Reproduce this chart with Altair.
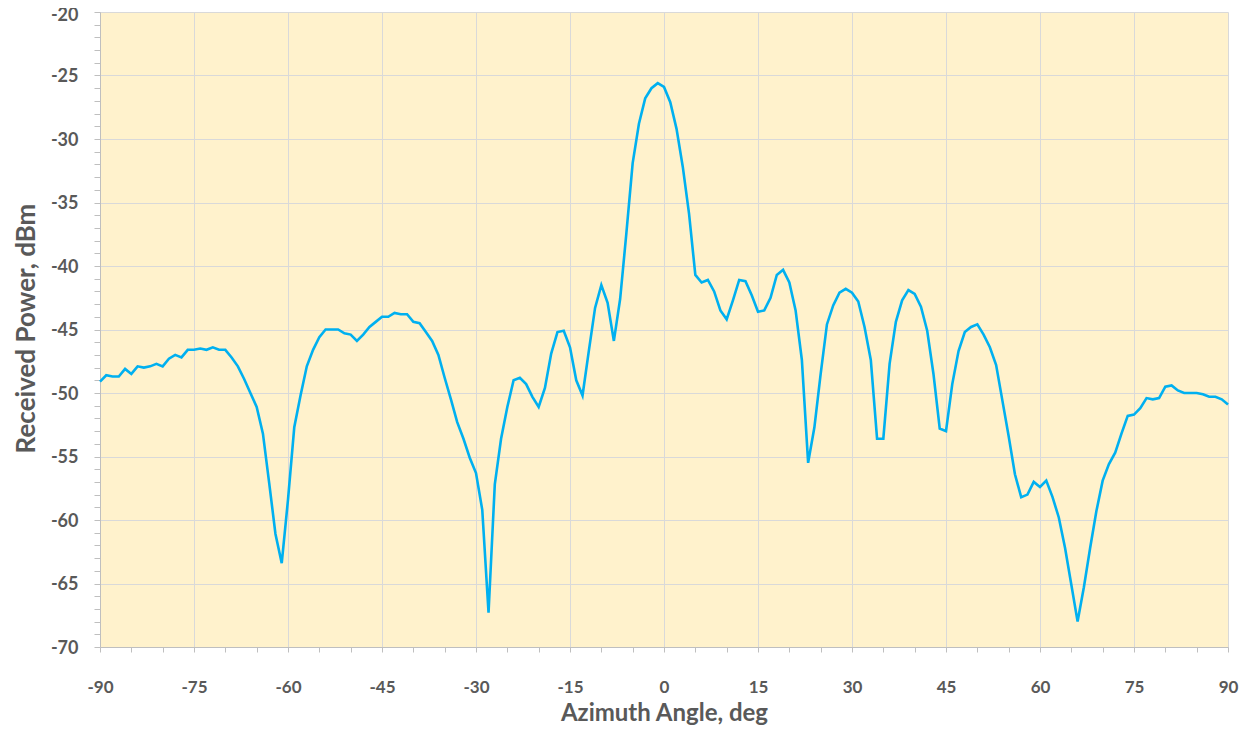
import altair as alt
import pandas as pd

angles = list(range(-90, 91))
power = [
    -49.1, -48.6, -48.7, -48.7, -48.1, -48.5, -47.9, -48.0, -47.9, -47.7,
    -47.9, -47.3, -47.0, -47.2, -46.6, -46.6, -46.5, -46.6, -46.4, -46.6,
    -46.6, -47.2, -47.9, -48.9, -50.0, -51.1, -53.2, -57.1, -61.1, -63.4,
    -58.4, -52.7, -50.2, -47.9, -46.6, -45.6, -45.0, -45.0, -45.0, -45.3,
    -45.4, -45.9, -45.4, -44.8, -44.4, -44.0, -44.0, -43.7, -43.8, -43.8,
    -44.4, -44.5, -45.2, -45.9, -47.0, -48.8, -50.5, -52.3, -53.6, -55.1,
    -56.3, -59.2, -67.3, -57.2, -53.6, -51.1, -49.0, -48.8, -49.3, -50.3,
    -51.1, -49.6, -46.9, -45.2, -45.1, -46.4, -49.0, -50.2, -46.7, -43.3,
    -41.5, -42.9, -45.9, -42.6, -37.4, -31.9, -28.8, -26.8, -26.0, -25.6,
    -25.9, -27.1, -29.2, -32.2, -35.9, -40.7, -41.3, -41.1, -42.0, -43.5,
    -44.2, -42.7, -41.1, -41.2, -42.3, -43.6, -43.5, -42.5, -40.7, -40.3,
    -41.3, -43.5, -47.4, -55.5, -52.7, -48.5, -44.6, -43.1, -42.1, -41.8,
    -42.1, -42.8, -44.8, -47.4, -53.6, -53.6, -47.7, -44.4, -42.7, -41.9,
    -42.2, -43.2, -45.1, -48.5, -52.8, -53.0, -49.3, -46.7, -45.2, -44.8,
    -44.6, -45.4, -46.4, -47.8, -50.6, -53.4, -56.4, -58.2, -58.0, -57.0,
    -57.4, -56.9, -58.2, -59.8, -62.2, -65.1, -68.0, -65.3, -62.2, -59.3,
    -56.9, -55.6, -54.7, -53.2, -51.8, -51.7, -51.2, -50.4, -50.5, -50.4,
    -49.5, -49.4, -49.8, -50.0, -50.0, -50.0, -50.1, -50.3, -50.3, -50.5, -50.9,
]

x_ticks = list(range(-90, 91, 5))
y_ticks = list(range(-70, -19, 1))

df = pd.DataFrame({"angle": angles, "power": power})

FONT = "Lato"
TXT = "#595959"

x_axis = alt.Axis(
    values=x_ticks,
    labelExpr="datum.value % 15 === 0 ? '' + datum.value : ''",
    gridOpacity={"condition": {"test": "datum.value % 15 !== 0", "value": 0}, "value": 1},
    labelOverlap=False,
    labelFlush=False,
    grid=True,
    gridColor="#D9D9D9",
    gridWidth=1,
    domainColor="#BFBFBF",
    tickColor="#BFBFBF",
    tickSize=5,
    labelFont=FONT,
    labelFontSize=17,
    labelFontWeight="bold",
    labelColor=TXT,
    labelBaseline="alphabetic",
    labelPadding=40,
    title="Azimuth Angle, deg",
    titleFont=FONT,
    titleFontSize=24,
    titleFontWeight="bold",
    titleColor=TXT,
    titleBaseline="alphabetic",
    titleX=564,
    titleY=73,
)

y_axis = alt.Axis(
    values=y_ticks,
    labelExpr="datum.value % 5 === 0 ? '' + datum.value : ''",
    gridOpacity={"condition": {"test": "datum.value % 5 !== 0", "value": 0}, "value": 1},
    labelOverlap=False,
    labelFlush=False,
    grid=True,
    gridColor="#D9D9D9",
    gridWidth=1,
    domainColor="#BFBFBF",
    tickColor="#BFBFBF",
    tickSize=6,
    labelFont=FONT,
    labelFontSize=18,
    labelFontWeight="bold",
    labelColor=TXT,
    labelPadding=16,
    labelOffset={"condition": {"test": "datum.value === -20", "value": 3}, "value": 1},
    title="Received Power, dBm",
    titleFont=FONT,
    titleFontSize=26,
    titleFontWeight="bold",
    titleColor=TXT,
    titleBaseline="alphabetic",
    titleAngle=270,
    titleX=-66,
    titleY=316,
)

chart = (
    alt.Chart(df)
    .mark_line(color="#00B0F0", strokeWidth=2.6)
    .encode(
        x=alt.X("angle:Q", scale=alt.Scale(domain=[-90, 90], nice=False, zero=False), axis=x_axis),
        y=alt.Y("power:Q", scale=alt.Scale(domain=[-70, -20], nice=False, zero=False), axis=y_axis),
    )
    .properties(
        width=1128,
        height=635,
        autosize=alt.AutoSizeParams(type="none"),
        padding={"left": 92, "top": 4, "right": 12, "bottom": 78},
        background="white",
    )
    .configure_view(fill="#FFF2CC", stroke=None)
)

chart.save("out.html", embed_options={"renderer": "svg", "actions": False})
